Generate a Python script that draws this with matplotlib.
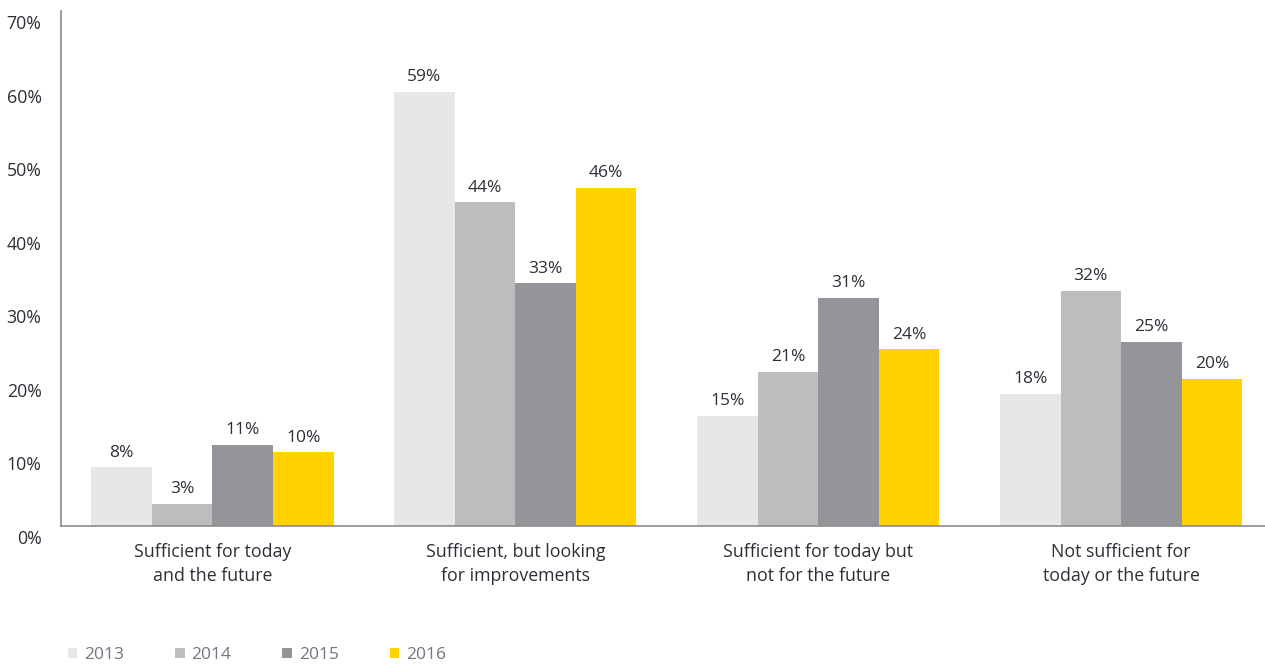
"""
bar chart: adequacy of current arrangements, 2013-2016
"""
import matplotlib
matplotlib.use("Agg")
import matplotlib.pyplot as plt
import matplotlib.transforms as mtransforms
import numpy as np

categories = [
    "Sufficient for today\nand the future",
    "Sufficient, but looking\nfor improvements",
    "Sufficient for today but\nnot for the future",
    "Not sufficient for\ntoday or the future",
]
years = ["2013", "2014", "2015", "2016"]
values = {
    "2013": [8, 59, 15, 18],
    "2014": [3, 44, 21, 32],
    "2015": [11, 33, 31, 25],
    "2016": [10, 46, 24, 20],
}
colors = ["#e6e7e8", "#bcbdbf", "#939598", "#ffd200"]
yticks = [0, 10, 20, 30, 40, 50, 60, 70]

plt.rcParams["font.family"] = ["Open Sans", "DejaVu Sans"]
text_color = "#2e2e38"

fig = plt.figure(figsize=(12.65, 6.66), dpi=100)
ax = fig.add_axes([61 / 1265, 140 / 666, 1204 / 1265, 515 / 666])

x = np.arange(len(categories))
width = 0.2
for i, year in enumerate(years):
    pos = x + (i - 1.5) * width
    bars = ax.bar(pos, values[year], width, color=colors[i], label=year)
    for xp, v in zip(pos, values[year]):
        ax.text(xp, v + 0.9, f"{v}%", ha="center", va="bottom",
                fontsize=12.5, color=text_color)

ax.set_xlim(-0.5, 3.475)
ax.set_ylim(0, 70)
ax.set_xticks(x)
ax.set_xticklabels(categories, fontsize=12.8, color=text_color, linespacing=1.42)
ax.set_yticks(yticks)
ax.set_yticklabels([f"{t}%" for t in yticks], fontsize=12.8, color=text_color)
ax.tick_params(axis="both", length=0)
ax.tick_params(axis="y", pad=14)
ax.tick_params(axis="x", pad=12)

# y labels sit just below their gridline value
offset = mtransforms.ScaledTranslation(0, -11 / 100, fig.dpi_scale_trans)
for lbl in ax.get_yticklabels():
    lbl.set_transform(lbl.get_transform() + offset)

for side in ["top", "right"]:
    ax.spines[side].set_visible(False)
for side in ["left", "bottom"]:
    ax.spines[side].set_color("#8c8c8c")
    ax.spines[side].set_linewidth(1.2)

leg = fig.legend(loc="center left", bbox_to_anchor=(52 / 1265, 11 / 666), ncol=4,
                 frameon=False, fontsize=12.5, handlelength=0.55,
                 handleheight=0.55, handletextpad=0.4, columnspacing=2.93)
for t in leg.get_texts():
    t.set_color("#747480")

fig.savefig("out.png", dpi=100)
